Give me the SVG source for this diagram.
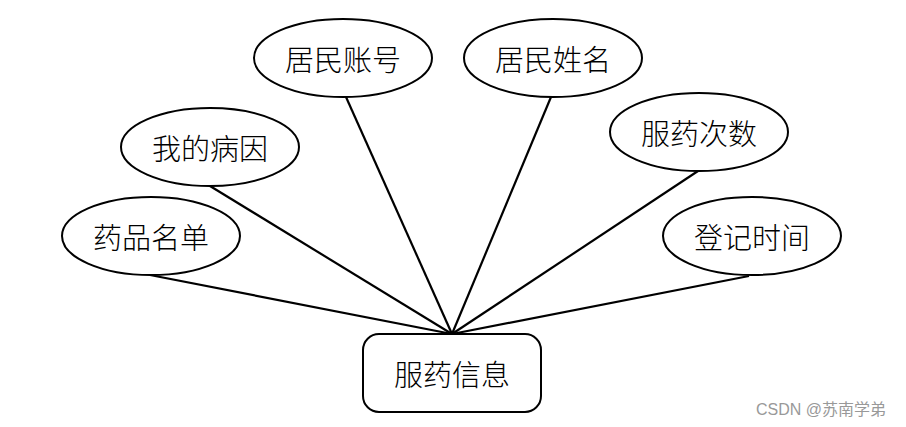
<svg xmlns="http://www.w3.org/2000/svg" width="906" height="427" viewBox="0 0 906 427">
<style>
.shape{fill:#fff;stroke:#000;stroke-width:2}
.lbl{font-family:"Noto Sans CJK SC","Noto Sans",sans-serif;font-size:29px;font-weight:300;fill:#000;text-anchor:middle;dominant-baseline:central}
.conn line{stroke:#000;stroke-width:2.2}
.wm{font-family:"Liberation Sans","Noto Sans CJK SC",sans-serif;font-size:16px;fill:#999}
</style>
<rect width="906" height="427" fill="#fff"/>
<g class="conn" id="connectors">
<line x1="346" y1="97" x2="452" y2="334"/>
<line x1="551" y1="97" x2="452" y2="334"/>
<line x1="210" y1="186" x2="452" y2="334"/>
<line x1="150" y1="275" x2="452" y2="334"/>
<line x1="698" y1="171" x2="452" y2="334"/>
<line x1="749" y1="276" x2="452" y2="334"/>
</g>
<g id="n-zhanghao"><ellipse class="shape" cx="343" cy="58" rx="89" ry="39"/><text class="lbl" x="343" y="58">居民账号</text></g>
<g id="n-xingming"><ellipse class="shape" cx="553" cy="58" rx="89" ry="39"/><text class="lbl" x="553" y="58">居民姓名</text></g>
<g id="n-bingyin"><ellipse class="shape" cx="210" cy="147" rx="89" ry="39"/><text class="lbl" x="210" y="147">我的病因</text></g>
<g id="n-cishu"><ellipse class="shape" cx="699" cy="132" rx="89" ry="39"/><text class="lbl" x="699" y="132">服药次数</text></g>
<g id="n-mingdan"><ellipse class="shape" cx="151" cy="236" rx="89" ry="39"/><text class="lbl" x="151" y="236">药品名单</text></g>
<g id="n-shijian"><ellipse class="shape" cx="752" cy="236" rx="89" ry="39"/><text class="lbl" x="752" y="236">登记时间</text></g>
<g id="n-xinxi"><rect class="shape" x="363" y="334" width="178" height="78" rx="16"/><text class="lbl" x="452" y="373">服药信息</text></g>
<text class="wm" x="756" y="415">CSDN @苏南学弟</text>
</svg>
